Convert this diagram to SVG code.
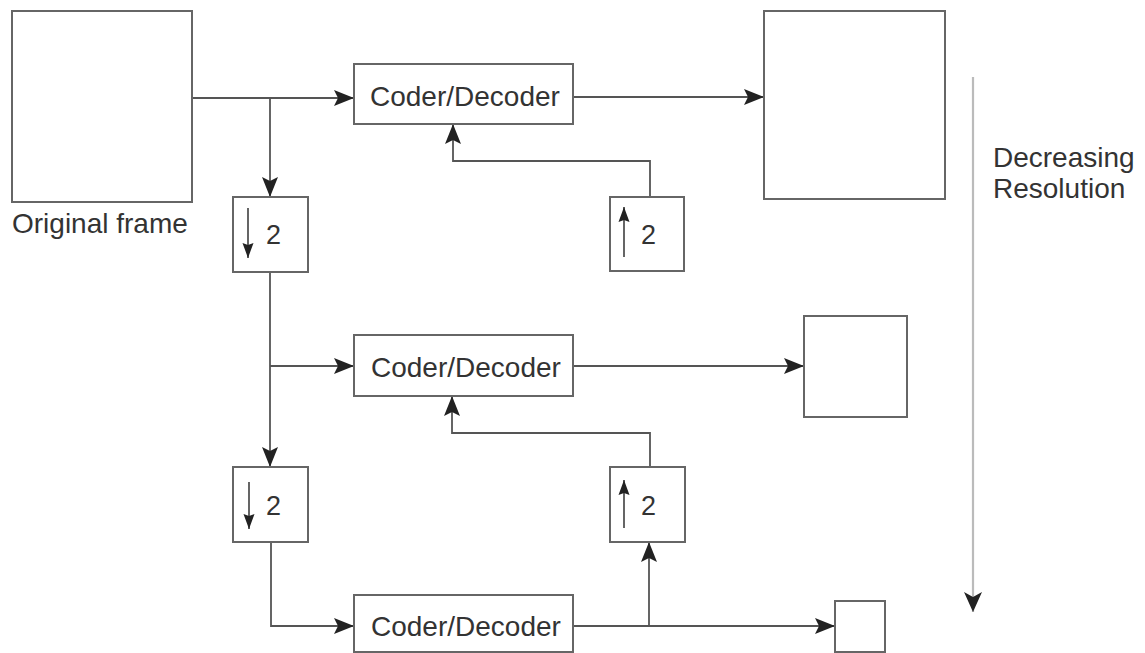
<svg xmlns="http://www.w3.org/2000/svg" width="1145" height="653" viewBox="0 0 1145 653">
<defs>
<style>
.box{fill:#fff;stroke:#666;stroke-width:2}
.ln{fill:none;stroke:#555;stroke-width:1.8}
.lbl{font-family:"Liberation Sans",Arial,sans-serif;font-size:28px;fill:#333}
.num{font-family:"Liberation Sans",Arial,sans-serif;font-size:27px;fill:#333}
.res{fill:none;stroke:#bbb;stroke-width:2.2}
</style>
<marker id="ah" markerUnits="userSpaceOnUse" markerWidth="22" markerHeight="18" refX="20" refY="9" orient="auto">
<path d="M0,1 L20,9 L0,17 L4,9 Z" fill="#222"/>
</marker>
<marker id="sm" markerUnits="userSpaceOnUse" markerWidth="16" markerHeight="12" refX="15" refY="6" orient="auto">
<path d="M0,0.5 L15,6 L0,11.5 L2,6 Z" fill="#222"/>
</marker>
<marker id="big" markerUnits="userSpaceOnUse" markerWidth="22" markerHeight="20" refX="20" refY="10" orient="auto">
<path d="M0,1 L20,10 L0,19 L5,10 Z" fill="#222"/>
</marker>
</defs>
<rect width="1145" height="653" fill="#fff"/>

<g id="connectors">
<path class="ln" d="M192,98 H354" marker-end="url(#ah)"/>
<path class="ln" d="M270,98 V197" marker-end="url(#ah)"/>
<path class="ln" d="M573,97 H764" marker-end="url(#ah)"/>
<path class="ln" d="M650,197 V161 H453 V124" marker-end="url(#ah)"/>
<path class="ln" d="M270,272 V467" marker-end="url(#ah)"/>
<path class="ln" d="M270,366 H354" marker-end="url(#ah)"/>
<path class="ln" d="M573,366 H804" marker-end="url(#ah)"/>
<path class="ln" d="M650,467 V433 H452 V396" marker-end="url(#ah)"/>
<path class="ln" d="M271,542 V626 H354" marker-end="url(#ah)"/>
<path class="ln" d="M573,626 H835" marker-end="url(#ah)"/>
<path class="ln" d="M649,626 V542" marker-end="url(#ah)"/>
</g>

<g id="original-frame">
<rect class="box" x="12" y="11" width="180" height="191"/>
<text class="lbl" x="12" y="233">Original frame</text>
</g>

<g id="coder1">
<rect class="box" x="354" y="64" width="219" height="60"/>
<text class="lbl" x="370" y="106">Coder/Decoder</text>
</g>
<g id="out1">
<rect class="box" x="764" y="11" width="181" height="188"/>
</g>
<g id="down1">
<rect class="box" x="233" y="197" width="75" height="75"/>
<path class="ln" d="M248,208 V258" marker-end="url(#sm)"/>
<text class="num" x="266" y="244">2</text>
</g>
<g id="up1">
<rect class="box" x="610" y="197" width="74" height="74"/>
<path class="ln" d="M624,257 V207" marker-end="url(#sm)"/>
<text class="num" x="641" y="244">2</text>
</g>

<g id="coder2">
<rect class="box" x="354" y="335" width="219" height="61"/>
<text class="lbl" x="371" y="377">Coder/Decoder</text>
</g>
<g id="out2">
<rect class="box" x="804" y="316" width="103" height="101"/>
</g>
<g id="down2">
<rect class="box" x="233" y="467" width="75" height="75"/>
<path class="ln" d="M249,482 V529" marker-end="url(#sm)"/>
<text class="num" x="266" y="515">2</text>
</g>
<g id="up2">
<rect class="box" x="610" y="467" width="75" height="75"/>
<path class="ln" d="M624,528 V480" marker-end="url(#sm)"/>
<text class="num" x="641" y="515">2</text>
</g>

<g id="coder3">
<rect class="box" x="354" y="595" width="219" height="57"/>
<text class="lbl" x="371" y="636">Coder/Decoder</text>
</g>
<g id="out3">
<rect class="box" x="835" y="601" width="50" height="51"/>
</g>

<g id="resolution">
<path class="res" d="M973,77 V612" marker-end="url(#big)"/>
<text class="lbl" x="993" y="167">Decreasing</text>
<text class="lbl" x="993" y="198">Resolution</text>
</g>
</svg>
